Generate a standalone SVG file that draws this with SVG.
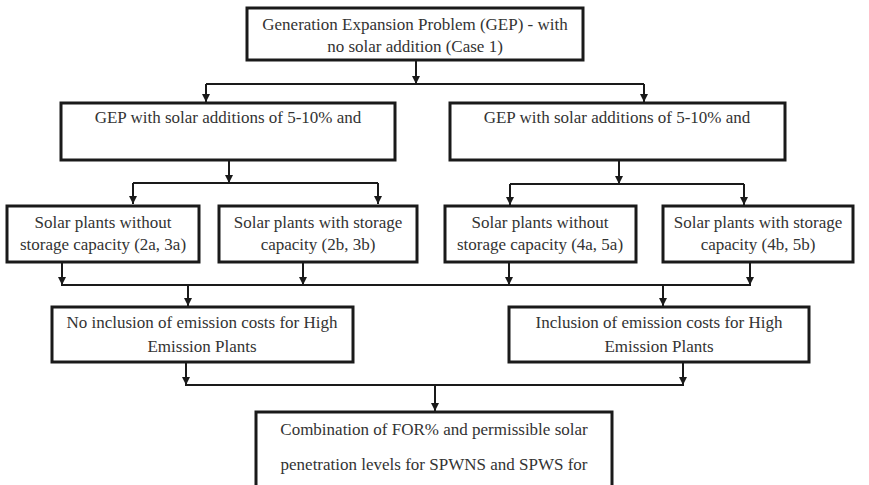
<svg xmlns="http://www.w3.org/2000/svg" width="869" height="485" viewBox="0 0 869 485">
<defs>
<marker id="ah" markerUnits="userSpaceOnUse" markerWidth="8" markerHeight="8" refX="8" refY="4" orient="auto">
<path d="M0,0 L8,4 L0,8 z" fill="#1a1a1a"/>
</marker>
<style>
.box{fill:#fff;stroke:#1a1a1a;stroke-width:3}
.t{font-size:17px;fill:#333;text-anchor:middle}
.c{fill:none;stroke:#1a1a1a;stroke-width:2}
.a{fill:none;stroke:#1a1a1a;stroke-width:2;marker-end:url(#ah)}
</style>
</defs>
<rect width="869" height="485" fill="#fff"/>
<g id="connectors">
<path class="a" d="M416,61 V84"/>
<path class="c" d="M206,84 H644"/>
<path class="a" d="M206,84 V102"/>
<path class="a" d="M644,84 V102"/>
<path class="a" d="M229,161 V183"/>
<path class="c" d="M133,183 H378"/>
<path class="a" d="M133,183 V204"/>
<path class="a" d="M378,183 V204"/>
<path class="a" d="M619,161 V184"/>
<path class="c" d="M510,184 H744"/>
<path class="a" d="M510,184 V205"/>
<path class="a" d="M744,184 V205"/>
<path class="a" d="M62,263 V285"/>
<path class="a" d="M303,263 V285"/>
<path class="a" d="M509,263 V285"/>
<path class="a" d="M750,263 V285"/>
<path class="c" d="M61,285 H751"/>
<path class="a" d="M188,285 V306"/>
<path class="a" d="M663,285 V306"/>
<path class="a" d="M186,363 V385"/>
<path class="a" d="M683,363 V385"/>
<path class="c" d="M185,385 H684"/>
<path class="a" d="M435,385 V411"/>
</g>
<g font-family="'Liberation Serif', 'DejaVu Serif', serif">
<g id="n-gep">
<rect class="box" x="247" y="8" width="336" height="52"/>
<text class="t" x="415" y="30">Generation Expansion Problem (GEP) - with</text>
<text class="t" x="415" y="52">no solar addition (Case 1)</text>
</g>
<g id="n-solar-left">
<rect class="box" x="61" y="103" width="334" height="57"/>
<text class="t" x="228" y="123">GEP with solar additions of 5-10% and</text>
</g>
<g id="n-solar-right">
<rect class="box" x="450" y="103" width="335" height="57"/>
<text class="t" x="617" y="123">GEP with solar additions of 5-10% and</text>
</g>
<g id="n-2a3a">
<rect class="box" x="7" y="206" width="192" height="56"/>
<text class="t" x="103" y="228">Solar plants without</text>
<text class="t" x="103" y="250">storage capacity (2a, 3a)</text>
</g>
<g id="n-2b3b">
<rect class="box" x="219" y="206" width="198" height="56"/>
<text class="t" x="318" y="228">Solar plants with storage</text>
<text class="t" x="318" y="250">capacity (2b, 3b)</text>
</g>
<g id="n-4a5a">
<rect class="box" x="445" y="206" width="191" height="56"/>
<text class="t" x="540" y="228">Solar plants without</text>
<text class="t" x="540" y="250">storage capacity (4a, 5a)</text>
</g>
<g id="n-4b5b">
<rect class="box" x="663" y="206" width="190" height="56"/>
<text class="t" x="758" y="228">Solar plants with storage</text>
<text class="t" x="758" y="250">capacity (4b, 5b)</text>
</g>
<g id="n-noemission">
<rect class="box" x="52" y="307" width="301" height="55"/>
<text class="t" x="202" y="328">No inclusion of emission costs for High</text>
<text class="t" x="202" y="352">Emission Plants</text>
</g>
<g id="n-emission">
<rect class="box" x="509" y="307" width="300" height="55"/>
<text class="t" x="659" y="328">Inclusion of emission costs for High</text>
<text class="t" x="659" y="352">Emission Plants</text>
</g>
<g id="n-combination">
<rect class="box" x="256" y="412" width="356" height="90"/>
<text class="t" x="434" y="435">Combination of FOR% and permissible solar</text>
<text class="t" x="434" y="470">penetration levels for SPWNS and SPWS for</text>
</g>
</g>
</svg>
